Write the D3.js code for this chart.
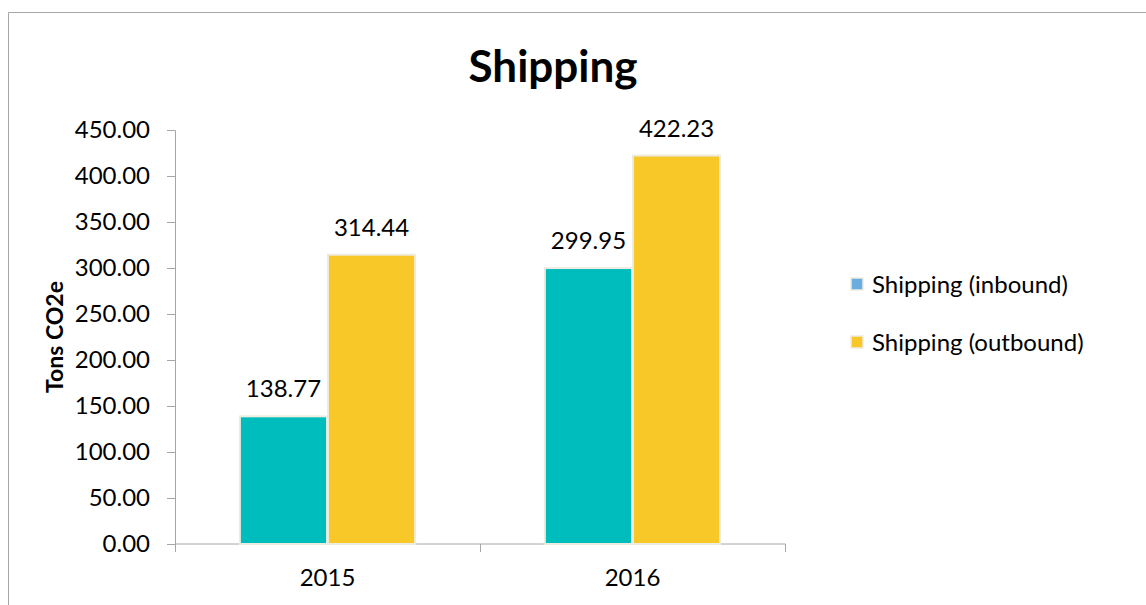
<!DOCTYPE html>
<html>
<head>
<meta charset="utf-8">
<script src="https://cdn.jsdelivr.net/npm/d3@7"></script>
<style>
  body { margin: 0; background: #fff; }
  text { font-family: Lato, "Open Sans", sans-serif; fill: #000; }
</style>
</head>
<body>
<svg id="chart"></svg>
<script>
const years = ['2015', '2016'];
const seriesNames = ['Shipping (inbound)', 'Shipping (outbound)'];
const inbound = [138.77, 299.95];
const outbound = [314.44, 422.23];
const yTicks = [0, 50, 100, 150, 200, 250, 300, 350, 400, 450];

const w = 1146, h = 605;
const margin = {top: 130, left: 175, right: 361, bottom: 61};
const innerH = h - margin.top - margin.bottom;
const innerW = w - margin.left - margin.right;

const svg = d3.select('#chart').attr('width', w).attr('height', h);

// outer chart border
svg.append('path')
  .attr('d', 'M8.5,' + h + 'V12.5H' + w)
  .attr('fill', 'none')
  .attr('stroke', '#a6a6a6');

const g = svg.append('g').attr('transform', `translate(${margin.left},${margin.top})`);

const x0 = d3.scaleBand().domain(years).range([0, innerW]).paddingInner(0).paddingOuter(0);
const x1 = d3.scaleBand().domain(seriesNames).range([64, x0.bandwidth() - 64]).padding(0.01);
const y = d3.scaleLinear().domain([0, 450]).range([innerH, 0]);

const colors = ['#00bdbd', '#f8c828'];
const legendColors = ['#6aaee0', '#f8c828'];

const yAxis = d3.axisLeft(y).tickValues(yTicks).tickFormat(d3.format('.2f')).tickSize(8).tickPadding(17);
const gy = g.append('g').call(yAxis);
gy.select('.domain').attr('stroke', '#a6a6a6');
gy.selectAll('.tick line').attr('stroke', '#a6a6a6');
gy.selectAll('.tick text').attr('font-size', 24).attr('fill', '#000');

const xAxis = d3.axisBottom(x0).tickSize(0).tickPadding(25);
const gx = g.append('g').attr('transform', `translate(0,${innerH})`).call(xAxis);
gx.select('.domain').attr('stroke', '#a6a6a6').attr('d', `M0.5,0H${innerW + 0.5}`);
gx.selectAll('.tick text').attr('font-size', 24).attr('fill', '#000');
gx.selectAll('.sep')
  .data([0, x0.bandwidth(), innerW])
  .join('line')
  .attr('x1', d => d + 0.5).attr('x2', d => d + 0.5)
  .attr('y1', 0).attr('y2', 8)
  .attr('stroke', '#a6a6a6');

const rows = years.map((yr, i) => ({year: yr, values: [inbound[i], outbound[i]]}));

const groups = g.selectAll('.grp')
  .data(rows)
  .join('g')
  .attr('transform', d => `translate(${x0(d.year)},0)`);

groups.selectAll('rect')
  .data(d => d.values.map((v, j) => ({v, s: seriesNames[j], j})))
  .join('rect')
  .attr('x', d => x1(d.s))
  .attr('width', x1.bandwidth())
  .attr('y', d => y(d.v))
  .attr('height', d => innerH - y(d.v))
  .attr('fill', d => colors[d.j])
  .attr('stroke', '#eeece1')
  .attr('stroke-width', 2);

groups.selectAll('.lbl')
  .data(d => d.values.map((v, j) => ({v, s: seriesNames[j]})))
  .join('text')
  .attr('x', d => x1(d.s) + x1.bandwidth() / 2)
  .attr('y', d => y(d.v) - 19)
  .attr('text-anchor', 'middle')
  .attr('font-size', 24)
  .text(d => d.v.toFixed(2));

svg.append('text')
  .attr('x', 553).attr('y', 82)
  .attr('text-anchor', 'middle')
  .attr('font-size', 44)
  .attr('font-weight', 'bold')
  .text('Shipping');

svg.append('text')
  .attr('transform', `translate(63,${margin.top + innerH / 2}) rotate(-90)`)
  .attr('text-anchor', 'middle')
  .attr('font-size', 23)
  .attr('font-weight', 'bold')
  .text('Tons CO2e');

const legend = svg.selectAll('.leg')
  .data(seriesNames)
  .join('g')
  .attr('transform', (d, i) => `translate(851,${278 + i * 58})`);
legend.append('rect')
  .attr('width', 12).attr('height', 12)
  .attr('fill', (d, i) => legendColors[i])
  .attr('stroke', '#eeece1').attr('stroke-width', 1.5);
legend.append('text')
  .attr('x', 21).attr('y', 15)
  .attr('font-size', 24)
  .text(d => d);
</script>
</body>
</html>
